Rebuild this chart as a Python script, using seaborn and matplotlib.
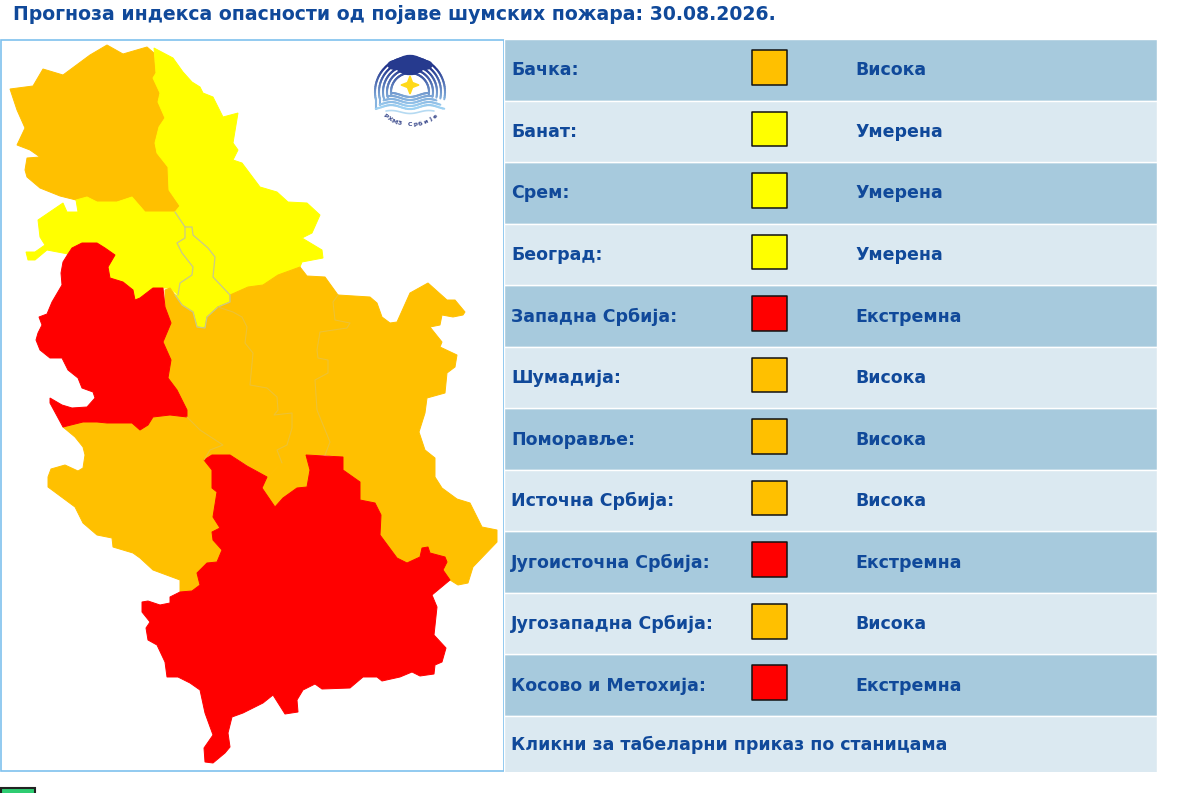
#!/usr/bin/env python3
"""
Forest fire danger forecast: region map on the left, region table on the right
"""

import numpy as np
import pandas as pd
import matplotlib
matplotlib.use('Agg')
import matplotlib.pyplot as plt
from matplotlib.patches import Polygon, Ellipse, Rectangle
import seaborn as sns

W, H = 1200, 793

TITLE = 'Прогноза индекса опасности од појаве шумских пожара: 30.08.2026.'
LINK_TEXT = 'Кликни за табеларни приказ по станицама'

REGIONS = ['Бачка:', 'Банат:', 'Срем:', 'Београд:', 'Западна Србија:', 'Шумадија:',
           'Поморавље:', 'Источна Србија:', 'Југоисточна Србија:', 'Југозападна Србија:',
           'Косово и Метохија:']
LEVELS = ['Висока', 'Умерена', 'Умерена', 'Умерена', 'Екстремна', 'Висока',
          'Висока', 'Висока', 'Екстремна', 'Висока', 'Екстремна']

LEVEL_COLORS = {'Умерена': '#FFFF00', 'Висока': '#FFC000', 'Екстремна': '#FF0000'}
TEXT_BLUE = '#10499A'
ROW_DARK = '#A7CADD'
ROW_LIGHT = '#DBE9F1'
FRAME_BLUE = '#7FC1EE'

# region outlines in image pixels
BACKA = [(10, 89), (33, 86), (43, 69), (63, 75), (90, 55), (107, 45), (123, 54), (147, 47), (154, 53),
         (156, 73), (153, 78), (160, 93), (158, 102), (165, 118), (159, 127), (155, 143), (157, 153),
         (168, 167), (169, 190), (180, 206), (175, 212), (145, 212), (132, 197), (117, 202), (97, 202),
         (87, 197), (76, 200), (60, 196), (40, 188), (27, 177), (25, 170), (27, 158), (40, 157), (30, 150),
         (17, 145), (25, 128), (17, 110)]
BANAT = [(154, 48), (173, 58), (183, 72), (192, 82), (200, 87), (203, 93), (213, 97), (223, 117), (238, 113),
         (233, 143), (238, 150), (233, 160), (242, 163), (260, 187), (277, 192), (288, 202), (307, 203),
         (320, 215), (312, 233), (302, 238), (322, 250), (323, 258), (302, 262), (300, 267), (278, 275),
         (263, 285), (248, 287), (230, 295), (213, 277), (215, 257), (208, 248), (193, 235), (192, 227),
         (185, 227), (175, 212), (180, 206), (169, 190), (168, 167), (157, 153), (155, 143), (159, 127),
         (165, 118), (158, 102), (160, 93), (153, 78), (156, 73)]
SREM = [(38, 220), (63, 203), (67, 212), (78, 212), (76, 200), (87, 197), (97, 202), (117, 202), (132, 197),
        (145, 212), (175, 212), (185, 227), (185, 238), (177, 243), (182, 253), (193, 267), (192, 275),
        (180, 283), (178, 295), (170, 288), (163, 288), (153, 288), (140, 298), (135, 300), (133, 290),
        (123, 282), (110, 278), (108, 267), (115, 255), (105, 248), (97, 243), (82, 243), (72, 248), (68, 254),
        (47, 250), (35, 260), (28, 260), (26, 252), (35, 252), (45, 245), (40, 237)]
BEOGRAD = [(185, 227), (192, 227), (193, 235), (208, 248), (215, 257), (213, 277), (230, 295), (230, 302),
           (218, 307), (207, 317), (205, 328), (197, 327), (193, 312), (182, 305), (175, 295), (178, 295),
           (180, 283), (192, 275), (193, 267), (182, 253), (177, 243), (185, 238)]
ZAPADNA = [(82, 243), (97, 243), (105, 248), (115, 255), (108, 267), (110, 278), (123, 282), (133, 290),
           (135, 300), (140, 298), (153, 288), (163, 288), (165, 307), (171, 323), (163, 342), (171, 360),
           (168, 378), (177, 390), (187, 410), (187, 417), (170, 415), (153, 417), (148, 425), (140, 430),
           (132, 423), (107, 423), (97, 422), (83, 422), (63, 427), (50, 403), (50, 398), (62, 405), (72, 408),
           (87, 407), (95, 398), (93, 392), (82, 388), (78, 378), (68, 370), (62, 358), (50, 358), (40, 350),
           (36, 340), (38, 333), (42, 325), (39, 317), (47, 314), (52, 302), (62, 285), (61, 273), (63, 262),
           (68, 254), (72, 248)]
SUMADIJA = [(165, 290), (170, 288), (175, 295), (182, 305), (193, 312), (197, 327), (205, 328), (207, 317),
            (218, 307), (233, 312), (242, 317), (247, 327), (245, 343), (253, 353), (250, 385), (267, 388),
            (277, 397), (278, 410), (274, 415), (292, 413), (292, 428), (287, 445), (277, 450), (282, 463),
            (267, 477), (230, 455), (213, 455), (204, 460), (210, 450), (223, 445), (200, 430), (187, 417),
            (177, 390), (168, 378), (171, 360), (163, 342), (171, 323), (165, 307)]
POMORAVLJE = [(230, 295), (248, 287), (263, 285), (278, 275), (300, 267), (307, 276), (325, 277), (338, 295),
              (333, 302), (335, 320), (350, 323), (347, 328), (320, 332), (317, 350), (318, 358), (328, 360),
              (328, 373), (315, 380), (317, 410), (318, 413), (330, 442), (325, 455), (306, 455), (310, 470),
              (307, 487), (283, 498), (275, 507), (262, 488), (267, 477), (282, 463), (277, 450), (287, 445),
              (292, 428), (292, 413), (274, 415), (278, 410), (277, 397), (267, 388), (250, 385), (253, 353),
              (245, 343), (247, 327), (242, 317), (233, 312), (218, 307), (230, 302)]
ISTOCNA = [(338, 295), (370, 297), (377, 303), (382, 317), (390, 323), (397, 322), (410, 293), (428, 283),
           (447, 300), (455, 300), (465, 312), (463, 315), (453, 317), (442, 315), (440, 325), (430, 327),
           (442, 342), (440, 347), (457, 355), (455, 367), (447, 373), (445, 393), (427, 398), (425, 413),
           (419, 432), (425, 450), (435, 458), (435, 477), (442, 488), (457, 499), (470, 503), (482, 527),
           (497, 530), (497, 542), (473, 567), (468, 583), (458, 585), (450, 580), (443, 570), (447, 562),
           (445, 557), (430, 553), (428, 547), (422, 548), (420, 557), (407, 563), (397, 558), (380, 535),
           (381, 515), (375, 503), (360, 500), (360, 482), (343, 470), (343, 457), (325, 455), (330, 442),
           (318, 413), (317, 410), (315, 380), (328, 373), (328, 360), (318, 358), (317, 350), (320, 332),
           (347, 328), (350, 323), (335, 320), (333, 302)]
JUGOZAPADNA = [(63, 427), (83, 422), (97, 422), (107, 423), (132, 423), (140, 430), (148, 425), (153, 417),
               (170, 415), (187, 417), (200, 430), (223, 445), (210, 450), (204, 460), (212, 470), (212, 488),
               (217, 492), (213, 517), (220, 528), (212, 532), (213, 540), (222, 550), (217, 562), (207, 563),
               (197, 573), (200, 585), (192, 591), (180, 592), (180, 580), (153, 570), (140, 558), (133, 553),
               (113, 547), (112, 538), (97, 535), (83, 523), (75, 507), (48, 487), (48, 477), (51, 469), (65, 465),
               (78, 471), (83, 468), (85, 455), (83, 447), (75, 437)]
JUG = [(204, 460), (212, 455), (230, 455), (247, 466), (267, 477), (262, 488), (275, 507), (283, 498), (297, 488),
       (307, 487), (310, 470), (306, 455), (343, 457), (343, 470), (360, 482), (360, 500), (375, 503), (381, 515),
       (380, 535), (397, 558), (407, 563), (420, 557), (422, 548), (428, 547), (430, 553), (445, 557), (447, 562),
       (443, 570), (450, 580), (432, 595), (437, 607), (434, 635), (446, 648), (442, 662), (435, 665), (434, 674),
       (420, 676), (412, 672), (400, 677), (382, 681), (377, 677), (363, 677), (350, 688), (322, 689), (315, 684),
       (303, 690), (297, 700), (298, 712), (285, 714), (273, 695), (263, 703), (243, 713), (232, 717), (228, 733),
       (230, 747), (225, 753), (213, 763), (205, 762), (204, 748), (213, 735), (205, 713), (200, 690), (190, 683),
       (178, 677), (167, 677), (165, 662), (157, 645), (148, 640), (146, 628), (150, 622), (142, 612), (142, 602),
       (148, 601), (160, 605), (170, 603), (170, 597), (180, 592), (192, 591), (200, 585), (197, 573), (207, 563),
       (217, 562), (222, 550), (213, 540), (212, 532), (220, 528), (213, 517), (217, 492), (212, 488), (212, 470)]

MAP_SHAPES = [(BACKA, 'Висока'), (BANAT, 'Умерена'), (SREM, 'Умерена'), (BEOGRAD, 'Умерена'),
              (SUMADIJA, 'Висока'), (POMORAVLJE, 'Висока'), (ISTOCNA, 'Висока'), (JUGOZAPADNA, 'Висока'),
              (ZAPADNA, 'Екстремна'), (JUG, 'Екстремна')]

# faint inner borders, only where two regions share a danger level
YELLOW_BORDERS = [[(175, 212), (185, 227), (192, 227), (193, 235), (208, 248), (215, 257), (213, 277), (230, 295),
                   (230, 302), (218, 307), (207, 317), (205, 328), (197, 327), (193, 312), (182, 305), (175, 295)],
                  [(185, 227), (185, 238), (177, 243), (182, 253), (193, 267), (192, 275), (180, 283), (178, 295)]]
ORANGE_BORDERS = [[(218, 307), (233, 312), (242, 317), (247, 327), (245, 343), (253, 353), (250, 385), (267, 388),
                   (277, 397), (278, 410), (274, 415), (292, 413), (292, 428), (287, 445), (277, 450), (282, 463)],
                  [(338, 295), (333, 302), (335, 320), (350, 323), (347, 328), (320, 332), (317, 350), (318, 358),
                   (328, 360), (328, 373), (315, 380), (317, 410), (330, 442), (325, 455)],
                  [(187, 417), (200, 430), (223, 445), (210, 450), (204, 460)]]

LOGO_RADII = [19, 23, 27, 31, 35]
LOGO_TEXT = 'РХМЗ Србије'


def draw_logo(ax, cx, cy):
    """Small agency emblem, arches over waves"""
    navy = np.array([0.13, 0.20, 0.55])
    pale = np.array([0.62, 0.82, 0.95])
    for i, r in enumerate(LOGO_RADII):
        # ring = upper arch plus a wavy bottom, split in pieces so it can fade
        ang = np.deg2rad(np.linspace(-12, 192, 70))
        xs = cx + r * np.cos(ang)
        ys = cy - r * np.sin(ang)
        wx = np.linspace(xs[-1], xs[0], 40)
        wy = ys[0] + i * 2.2 + 2.0 * np.cos((wx - cx) / 6.0) - 1.0
        xs = np.concatenate([xs, wx])
        ys = np.concatenate([ys, wy])
        for k in range(len(xs) - 1):
            depth = np.clip((ys[k] - (cy - 25)) / 40, 0, 1)
            ax.plot(xs[k:k + 2], ys[k:k + 2], color=navy * (1 - depth) + pale * depth, lw=1.5,
                    solid_capstyle='round', zorder=4)
    wx = np.linspace(cx - 24, cx + 24, 40)
    ax.plot(wx, cy + 20 + 1.5 * np.cos((wx - cx) / 6.0), color='#B5DAF2', lw=1.2, zorder=4)

    ax.add_patch(Ellipse((cx, cy - 27), 28, 19, color='#263A8E', zorder=5))
    ax.add_patch(Ellipse((cx - 14, cy - 27), 16, 9, color='#263A8E', zorder=5))
    ax.add_patch(Ellipse((cx + 14, cy - 27), 16, 9, color='#263A8E', zorder=5))
    sy = cy - 7
    star = [(cx, sy - 9), (cx + 2.5, sy - 2.5), (cx + 9, sy), (cx + 2.5, sy + 2.5), (cx, sy + 9),
            (cx - 2.5, sy + 2.5), (cx - 9, sy), (cx - 2.5, sy - 2.5)]
    ax.add_patch(Polygon(star, color='#FFD91A', zorder=6))

    for i, ch in enumerate(LOGO_TEXT):
        deg = (i - 5) * 7.8
        a = np.deg2rad(deg)
        ax.text(cx + 40 * np.sin(a), cy - 7 + 40 * np.cos(a), ch, fontsize=4.5, color='#3B4A8C',
                ha='center', va='center', rotation=deg, fontweight='bold', zorder=6)


def main():
    sns.set_theme(style='white')
    plt.rcParams['font.family'] = ['DejaVu Sans']

    fig = plt.figure(figsize=(W / 100, H / 100), dpi=100, facecolor='white')

    # whole-figure axes in image pixels, for the map and the loose bits
    ax = fig.add_axes([0, 0, 1, 1])
    ax.set_xlim(0, W)
    ax.set_ylim(H, 0)
    ax.axis('off')

    ax.text(13, 15, TITLE, fontsize=13.55, fontweight='bold', color=TEXT_BLUE, va='center', ha='left')

    ax.add_patch(Rectangle((0.5, 39.5), 503, 731.5, facecolor='white', edgecolor=FRAME_BLUE, lw=1.2))
    for shape, level in MAP_SHAPES:
        col = LEVEL_COLORS[level]
        ax.add_patch(Polygon(shape, closed=True, facecolor=col, edgecolor=col, lw=0.7, zorder=3))
    for line in YELLOW_BORDERS:
        ax.plot(*zip(*line), color='#C9C98A', lw=0.9, zorder=3.5)
    for line in ORANGE_BORDERS:
        ax.plot(*zip(*line), color='#EDC235', lw=0.8, zorder=3.5)
    draw_logo(ax, 410, 92)

    # green box cut off by the bottom edge
    ax.add_patch(Rectangle((1, 788), 34, 10, facecolor='#2ECC71', edgecolor='#222222', lw=1.5, clip_on=True))

    # table, one bar per row; the last row is a bit shorter than the others
    rows = REGIONS + [LINK_TEXT]
    table = pd.DataFrame({'pos': range(len(rows)), 'width': 653,
                          'shade': ['dark' if i % 2 == 0 else 'light' for i in range(len(rows))]})
    tax = fig.add_axes([504 / W, 1 - 772 / H, 653 / W, 733 / H])
    sns.barplot(data=table, y='pos', x='width', hue='shade', palette={'dark': ROW_DARK, 'light': ROW_LIGHT},
                orient='y', native_scale=True, width=1.0, dodge=False, legend=False, saturation=1, ax=tax)

    swatches = pd.DataFrame({'pos': np.arange(len(REGIONS)) - 0.04, 'x': 265.5, 'level': LEVELS})
    sns.scatterplot(data=swatches, x='x', y='pos', hue='level', palette=LEVEL_COLORS, marker='s', s=620,
                    edgecolor='#111111', linewidth=1.1, legend=False, ax=tax, zorder=5)

    tax.set_xlim(0, 653)
    tax.set_ylim(11.41, -0.5)
    tax.axis('off')

    for i, (region, level) in enumerate(zip(REGIONS, LEVELS)):
        tax.text(7, i + 0.01, region, fontsize=12.5, fontweight='bold', color=TEXT_BLUE, va='center', ha='left')
        tax.text(351, i + 0.01, level, fontsize=12.5, fontweight='bold', color=TEXT_BLUE, va='center', ha='left')
    tax.text(7, 10.97, LINK_TEXT, fontsize=12.5, fontweight='bold', color=TEXT_BLUE, va='center', ha='left')

    plt.savefig('out.png', dpi=100)
    plt.close()


if __name__ == "__main__":
    main()
